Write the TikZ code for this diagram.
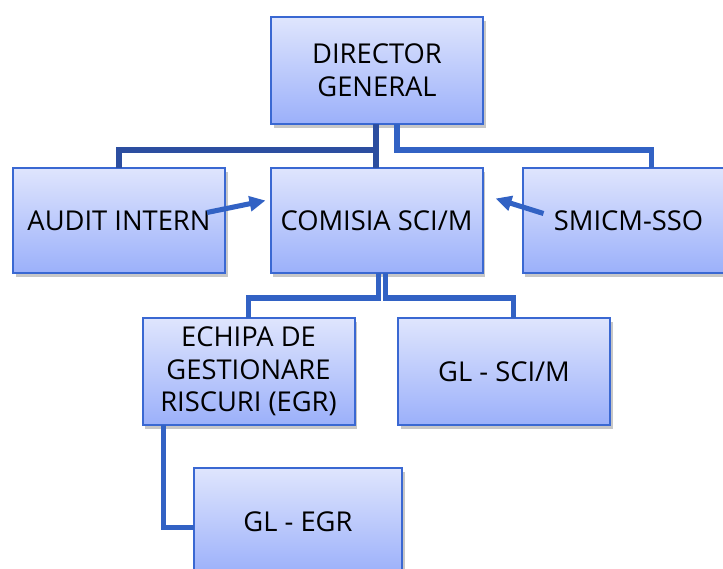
\documentclass[tikz,border=0pt]{standalone}
\usepackage{fontspec}
\setmainfont{Open Sans}
\usetikzlibrary{arrows.meta,shadows,calc}
\definecolor{boxtop}{RGB}{223,229,253}
\definecolor{boxbot}{RGB}{155,176,250}
\definecolor{boxline}{RGB}{58,104,210}
\definecolor{linedark}{RGB}{44,78,160}
\definecolor{linemid}{RGB}{50,98,196}
\tikzset{
  orgbox/.style={draw=boxline, line width=1.5pt, top color=boxtop, bottom color=boxbot,
    minimum width=159pt, minimum height=80pt, inner sep=2pt, outer sep=0pt, align=center,
    font=\fontsize{20.5}{24.5}\selectfont,
    drop shadow={shadow xshift=2pt, shadow yshift=-3pt, opacity=0.22, fill=black}},
  link/.style={line width=3.8pt},
  pointer/.style={line width=3.8pt, draw=linemid, -{Triangle[length=12pt,width=11pt]}}
}
\begin{document}
\begin{tikzpicture}[x=0.75pt,y=-0.75pt]
\useasboundingbox (0,0) rectangle (723,568);
\clip (0,0) rectangle (723,568);
% nodes
\node[orgbox, minimum height=80.25pt] (dir) at (377,70.5) {DIRECTOR\\GENERAL};
\node[orgbox, minimum height=78.75pt] (audit) at (119,220.5) {AUDIT INTERN};
\node[orgbox, minimum height=78.75pt] (comisia) at (376.5,220.5) {COMISIA SCI/M};
\node[orgbox, minimum height=78.75pt] (smicm) at (628.5,220.5) {SMICM-SSO};
\node[orgbox, minimum height=80.25pt] (echipa) at (248.5,371.5) {ECHIPA DE\\GESTIONARE\\RISCURI (EGR)};
\node[orgbox, minimum height=80.25pt] (glsci) at (504,371.5) {GL - SCI/M};
\node[orgbox, minimum width=156pt, minimum height=80.25pt] (glegr) at (298,521.5) {GL - EGR};
% connectors
\draw[link, draw=linemid] ([xshift=15pt]dir.south) -- ++(0,26) -| ([xshift=17.25pt]smicm.north);
\draw[link, draw=linedark] ([xshift=-0.75pt]dir.south) -- ++(0,26) -| (audit.north);
\draw[link, draw=linedark] ([xshift=-0.75pt]dir.south) -- ([xshift=-0.375pt]comisia.north);
\draw[link, draw=linemid] ([xshift=1.5pt]comisia.south) -- ++(0,25) -| (echipa.north);
\draw[link, draw=linemid] ([xshift=7pt]comisia.south) -- ++(0,25) -| ([xshift=7pt]glsci.north);
\draw[link, draw=linemid] ([xshift=-64pt]echipa.south) |- ([yshift=-4.5pt]glegr.west);
% arrows
\draw[pointer] ($(audit.east)+(-18,-8)$) -- ($(comisia.west)+(-5,-20)$);
\draw[pointer] ($(smicm.west)+(21,-7)$) -- ($(comisia.east)+(13,-22)$);
\end{tikzpicture}
\end{document}
